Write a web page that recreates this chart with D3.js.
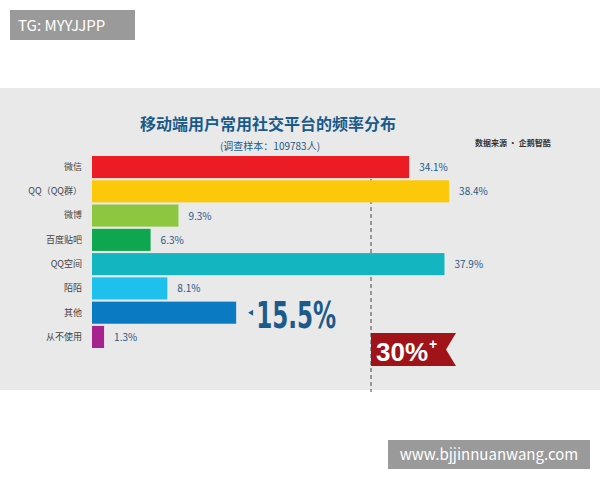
<!DOCTYPE html><html><head><meta charset="utf-8">
<script src="https://cdn.jsdelivr.net/npm/d3@7"></script>
<style>body{margin:0;background:#fff}svg{display:block;font-family:"Noto Sans CJK SC","Noto Sans",sans-serif}</style></head><body>
<script>
const categories=["微信","QQ（QQ群）","微博","百度贴吧","QQ空间","陌陌","其他","从不使用"];
const values=[34.1,38.4,9.3,6.3,37.9,8.1,15.5,1.3];
const colors=["#ec1c24","#fcc80a","#8dc63f","#0fa650","#13b5c1","#1ec0ee","#0a7bc2","#a6228e"];
const threshold=30;
const rows=categories.map((c,i)=>({c,v:values[i],col:colors[i],i}));
const svg=d3.select("body").append("svg").attr("width",600).attr("height",480);
svg.append("rect").attr("x",0).attr("y",88).attr("width",600).attr("height",302).attr("fill","#e9e9e9");
svg.append("rect").attr("x",10).attr("y",10).attr("width",125).attr("height",30).attr("fill","#9a9a9a");
svg.append("text").attr("x",18).attr("y",31).attr("fill","#fff").attr("font-size",15).text("TG: MYYJJPP");
svg.append("rect").attr("x",388).attr("y",440).attr("width",202).attr("height",29).attr("fill","#9a9a9a");
svg.append("text").attr("x",489).attr("y",460).attr("text-anchor","middle").attr("fill","#fff").attr("font-size",15).text("www.bjjinnuanwang.com");
svg.append("text").attr("x",268).attr("y",130).attr("text-anchor","middle").attr("fill","#1a5a8a").attr("font-size",16).attr("font-weight","bold").text("移动端用户常用社交平台的频率分布");
svg.append("text").attr("x",270).attr("y",150).attr("text-anchor","middle").attr("fill","#1a5a8a").attr("font-size",10).text("(调查样本：109783人)");
svg.append("text").attr("x",475).attr("y",146).attr("fill","#333").attr("font-size",8).attr("font-weight","bold").text("数据来源 · 企鹅智酷");
const x=d3.scaleLinear().domain([0,threshold]).range([92,371]);
const y=d3.scaleBand().domain(categories).range([156,348]).paddingInner(0.09);
svg.append("g").attr("transform","translate(92,0)").call(d3.axisLeft(y).tickSize(0).tickPadding(10))
 .call(g=>{g.select(".domain").remove();g.selectAll("text").attr("font-size",9).attr("fill","#444").attr("font-family","'Noto Sans CJK SC',sans-serif");});
svg.append("line").attr("x1",x(threshold)).attr("x2",x(threshold)).attr("y1",158).attr("y2",392).attr("stroke","#444").attr("stroke-dasharray","4,3");
svg.selectAll(".bar").data(rows).join("rect").attr("x",x(0)).attr("y",d=>y(d.c)).attr("height",y.bandwidth()).attr("width",d=>x(d.v)-x(0)).attr("fill",d=>d.col);
svg.selectAll(".vl").data(rows.filter(d=>d.i!==6)).join("text").attr("x",d=>x(d.v)+10).attr("y",d=>y(d.c)+y.bandwidth()/2+4).attr("fill","#1a5a8a").attr("font-size",10).text(d=>d.v+"%");
const o=rows[6], oy=y(o.c)+y.bandwidth()/2;
svg.append("path").attr("d",`M${x(o.v)+12},${oy} l5,-3 v6 z`).attr("fill","#1d5a8c");
svg.append("text").attr("x",x(o.v)+20).attr("y",oy+15).attr("fill","#1d5a8c").attr("font-size",38).attr("font-weight","bold").attr("font-family","'Liberation Sans Narrow','DejaVu Sans Condensed',sans-serif").attr("textLength",80).attr("lengthAdjust","spacingAndGlyphs").text(o.v+"%");
const rx=x(threshold);
svg.append("path").attr("d",`M${rx},333 H${rx+85} L${rx+75},349.5 L${rx+85},366 H${rx} Z`).attr("fill","#a01419");
const t=svg.append("text").attr("x",rx+5).attr("y",361).attr("fill","#fff").attr("font-weight","bold").attr("font-family","'Liberation Sans Narrow',sans-serif");
t.append("tspan").attr("font-size",26).text(threshold+"%");
t.append("tspan").attr("font-size",14).attr("dy",-12).attr("dx",1).text("+");
</script></body></html>
